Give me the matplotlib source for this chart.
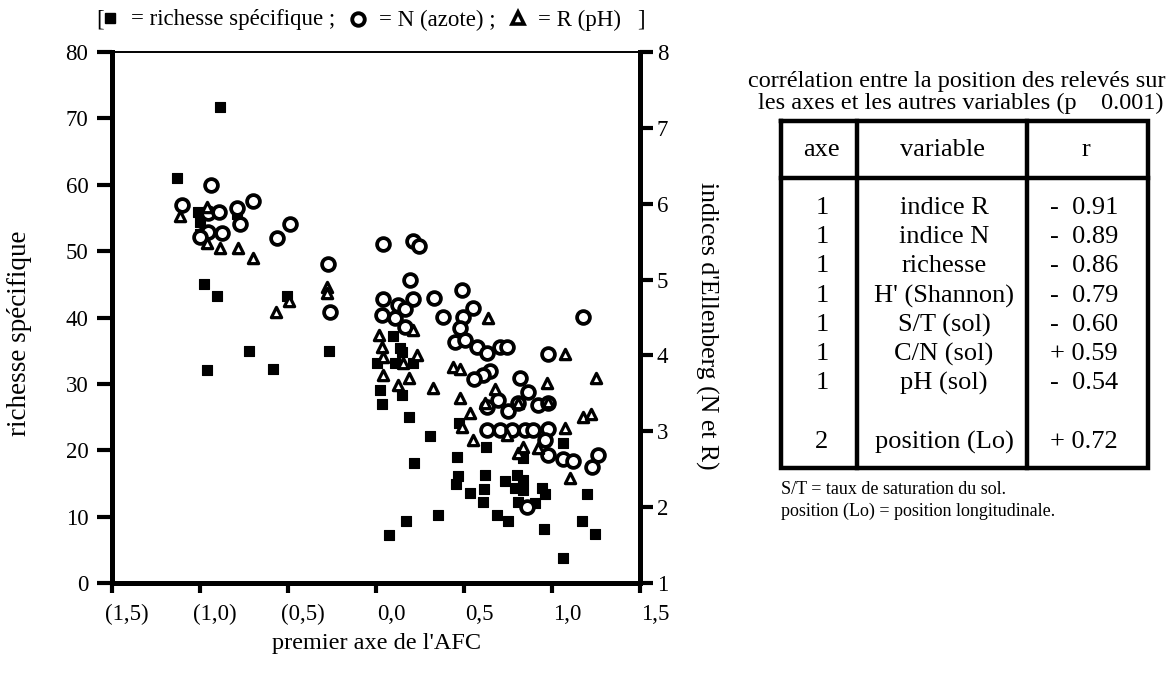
import matplotlib
matplotlib.use("Agg")
import matplotlib.pyplot as plt
from matplotlib.transforms import ScaledTranslation

plt.rcParams['font.family'] = ['Liberation Serif', 'DejaVu Serif']

# ---------------- data ----------------
# species richness (left axis) vs first AFC axis
rich_x = [-0.886, -1.131, -1.011, -1.0, -1.0, -0.79, -0.977, -0.903, -0.506, -0.96,
          -0.722, -0.585, -0.267, 0.006, 0.023, 0.034, 0.074, 0.097, 0.136, 0.108,
          0.148, 0.21, 0.148, 0.19, 0.307, 0.216, 0.17, 0.352, 0.46, 0.472,
          0.466, 0.455, 0.534, 0.62, 0.614, 0.608, 0.625, 0.733, 0.80, 0.835,
          0.79, 0.835, 0.943, 0.96, 0.807, 0.903, 0.688, 0.75, 0.955, 1.063,
          1.199, 1.17, 1.244, 1.063, 0.835]
rich_y = [71.7, 61.0, 55.9, 54.4, 52.6, 55.6, 45.0, 43.2, 43.2, 32.1,
          35.0, 32.2, 35.0, 33.1, 29.1, 27.0, 7.2, 37.2, 35.4, 33.1,
          34.8, 33.1, 28.3, 25.0, 22.1, 18.1, 9.3, 10.2, 19.0, 24.1,
          16.1, 14.9, 13.6, 16.3, 14.2, 12.2, 20.5, 15.4, 16.3, 15.5,
          14.3, 14.0, 14.3, 13.4, 12.2, 12.1, 10.2, 9.3, 8.1, 21.1,
          13.4, 9.3, 7.4, 3.8, 18.8]

# Ellenberg N index (right axis)
n_x = [-0.937, -1.102, -0.955, -0.892, -0.79, -0.70, -0.773, -0.983, -0.955, -0.875,
       -1.0, -0.563, -0.489, -0.273, -0.261, 0.04, 0.21, 0.244, 0.193, 0.04,
       0.125, 0.21, 0.33, 0.489, 0.165, 0.034, 0.108, 0.165, 0.38, 0.551,
       0.494, 0.477, 0.449, 0.506, 0.574, 0.631, 0.705, 0.744, 0.977, 1.176,
       0.648, 0.608, 0.557, 0.818, 0.864, 0.631, 0.693, 0.75, 0.807, 0.92,
       0.977, 0.631, 0.705, 0.773, 0.847, 0.892, 0.977, 0.96, 0.977, 1.063,
       1.12, 1.261, 1.227, 0.858]
n_y = [6.25, 5.98, 5.88, 5.89, 5.94, 6.04, 5.73, 5.59, 5.63, 5.61,
       5.56, 5.55, 5.73, 5.21, 4.57, 5.47, 5.51, 5.44, 4.99, 4.74,
       4.66, 4.74, 4.76, 4.86, 4.61, 4.53, 4.49, 4.37, 4.51, 4.63,
       4.51, 4.36, 4.18, 4.20, 4.11, 4.03, 4.11, 4.11, 4.02, 4.51,
       3.79, 3.74, 3.69, 3.70, 3.52, 3.32, 3.41, 3.27, 3.37, 3.35,
       3.37, 3.02, 3.02, 3.02, 3.02, 3.02, 3.03, 2.89, 2.69, 2.63,
       2.61, 2.69, 2.53, 2.0]

# Ellenberg R index (right axis)
r_x = [-1.114, -0.96, -0.96, -0.886, -0.784, -0.70, -0.568, -0.494, -0.278, -0.278,
       0.017, 0.034, 0.04, 0.04, 0.21, 0.233, 0.636, 0.438, 0.477, 1.074,
       1.25, 0.324, 0.972, 0.676, 0.153, 0.125, 0.188, 0.477, 0.534, 0.489,
       0.551, 0.62, 0.977, 0.807, 1.176, 1.22, 1.074, 0.807, 0.835, 0.92,
       1.10, 0.744]
r_y = [5.84, 5.96, 5.48, 5.42, 5.42, 5.28, 4.57, 4.72, 4.90, 4.82,
       4.27, 4.11, 3.98, 3.74, 4.34, 4.01, 4.49, 3.85, 3.82, 4.02,
       3.70, 3.57, 3.64, 3.56, 3.90, 3.61, 3.70, 3.44, 3.24, 3.06,
       2.89, 3.37, 3.39, 3.37, 3.19, 3.23, 3.04, 2.71, 2.79, 2.78,
       2.38, 2.95]

x_ticks = [-1.5, -1.0, -0.5, 0.0, 0.5, 1.0, 1.5]
x_ticklabels = ["(1,5)", "(1,0)", "(0,5)", "0,0", "0,5", "1,0", "1,5"]
left_ticks = [0, 10, 20, 30, 40, 50, 60, 70, 80]
right_ticks = [1, 2, 3, 4, 5, 6, 7, 8]

table_header = ["axe", "variable", "r"]
table_axe = ["1", "1", "1", "1", "1", "1", "1", "2"]
table_var = ["indice R", "indice N", "richesse", "H' (Shannon)", "S/T (sol)",
             "C/N (sol)", "pH (sol)", "position (Lo)"]
table_r = ["-  0.91", "-  0.89", "-  0.86", "-  0.79", "-  0.60", "+ 0.59",
           "-  0.54", "+ 0.72"]

# ---------------- figure ----------------
W, H = 1169, 675
fig = plt.figure(figsize=(W / 100, H / 100), dpi=100)
FS = 16.5

L, R, T, B = 112, 640, 52, 583
ax = fig.add_axes([L / W, 1 - B / H, (R - L) / W, (B - T) / H])
ax2 = ax.twinx()

ax.set_xlim(-1.5, 1.5)
ax.set_ylim(0, 80)
ax2.set_ylim(1, 8)

ax.scatter(rich_x, rich_y, marker='s', s=58, c='black', edgecolors='black',
           linewidths=0.8, zorder=3)
ax2.scatter(n_x, n_y, marker='o', s=85, facecolors='white', edgecolors='black',
            linewidths=2.7, zorder=4)
ax2.scatter(r_x, r_y, marker='^', s=55, facecolors='white', edgecolors='black',
            linewidths=2.3, zorder=5)

ax.set_xticks(x_ticks)
ax.set_xticklabels(x_ticklabels, fontsize=FS)
ax.set_yticks(left_ticks)
ax.set_yticklabels([str(v) for v in left_ticks], fontsize=FS)
ax2.set_yticks(right_ticks)
ax2.set_yticklabels([str(v) for v in right_ticks], fontsize=FS)

ax.tick_params(axis='x', direction='out', length=7, width=3, pad=8)
ax.tick_params(axis='y', direction='out', length=11, width=3, pad=6)
ax2.tick_params(axis='y', direction='out', length=9, width=3, pad=3)

off = ScaledTranslation(15 / 100, 0, fig.dpi_scale_trans)
for lab in ax.get_xticklabels():
    lab.set_transform(lab.get_transform() + off)

for s in ['left', 'bottom']:
    ax.spines[s].set_linewidth(3.6)
ax.spines['right'].set_visible(False)
ax.spines['top'].set_linewidth(1.4)
for s in ['left', 'bottom', 'top']:
    ax2.spines[s].set_visible(False)
ax2.spines['right'].set_linewidth(3.6)

ax.set_xlabel("premier axe de l'AFC", fontsize=17.5, labelpad=6)
ax.set_ylabel("richesse spécifique", fontsize=19.5, labelpad=24)
ax.yaxis.label.set_y(0.47)
ax2.set_ylabel("indices d'Ellenberg (N et R)", fontsize=18.5, rotation=-90, labelpad=36)
ax2.yaxis.label.set_y(0.485)

# ---------------- overlay (legend line + table) in pixel coords ----------------
ov = fig.add_axes([0, 0, 1, 1], zorder=10)
ov.set_xlim(0, W)
ov.set_ylim(H, 0)
ov.axis('off')
ov.patch.set_alpha(0)

ly = 20
ov.text(96, ly, "[", fontsize=FS, va='center', ha='left')
ov.plot([110], [ly - 2], marker='s', ms=7, color='black', clip_on=False)
ov.text(131, ly, "= richesse spécifique ;", fontsize=FS, va='center', ha='left')
ov.plot([358], [ly - 1], marker='o', ms=9, mfc='white', mec='black', mew=2.8, clip_on=False)
ov.text(379, ly, "= N (azote) ;", fontsize=FS, va='center', ha='left')
ov.plot([518], [ly - 2], marker='^', ms=8, mfc='white', mec='black', mew=2.6, clip_on=False)
ov.text(538, ly, "= R (pH)", fontsize=FS, va='center', ha='left')
ov.text(637, ly, "]", fontsize=FS, va='center', ha='left')

# table title
TT = 17.5
ov.text(957, 82, "corrélation entre la position des relevés sur", fontsize=TT, ha='center', va='center')
ov.text(961, 103, "les axes et les autres variables (p    0.001)", fontsize=TT, ha='center', va='center')

tx0, tx1, ty0, ty1 = 781, 1148, 121, 468
c1, c2 = 857, 1027
hline = 178
lw = 3.2
ov.plot([tx0, tx1, tx1, tx0, tx0], [ty0, ty0, ty1, ty1, ty0], color='black', lw=lw,
        solid_joinstyle='miter')
ov.plot([c1, c1], [ty0, ty1], color='black', lw=lw)
ov.plot([c2, c2], [ty0, ty1], color='black', lw=lw)
ov.plot([tx0, tx1], [hline, hline], color='black', lw=lw)

TFS = 19
ov.text(821, 150, table_header[0], fontsize=TFS, ha='center', va='center')
ov.text(943, 150, table_header[1], fontsize=TFS, ha='center', va='center')
ov.text(1086, 150, table_header[2], fontsize=TFS, ha='center', va='center')

row_y = [208, 237, 266, 296, 325, 354, 383, 442]
for yy, a, v, r in zip(row_y, table_axe, table_var, table_r):
    ov.text(822, yy, a, fontsize=TFS, ha='center', va='center')
    ov.text(944, yy, v, fontsize=TFS, ha='center', va='center')
    ov.text(1118, yy, r, fontsize=TFS, ha='right', va='center')

ov.text(781, 490, "S/T = taux de saturation du sol.", fontsize=13, ha='left', va='center')
ov.text(781, 511, "position (Lo) = position longitudinale.", fontsize=13, ha='left', va='center')

fig.savefig("out.png", dpi=100)
